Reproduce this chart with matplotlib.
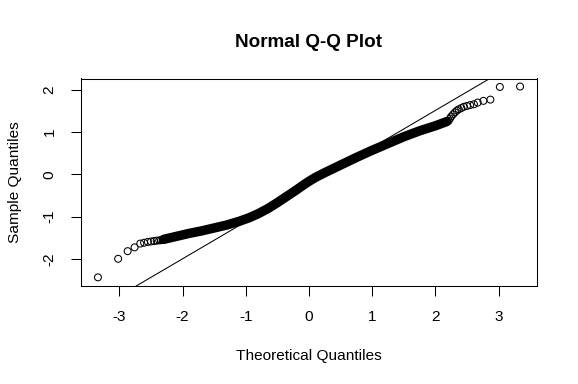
import numpy as np
import matplotlib
matplotlib.use("Agg")
import matplotlib.pyplot as plt

plt.rcParams["font.family"] = ["Liberation Sans", "DejaVu Sans"]

# lower tail: points that stand apart from the cloud (theoretical, sample)
low_theo = [-3.34, -3.02, -2.87, -2.76, -2.67, -2.61, -2.55, -2.50, -2.45,
            -2.41, -2.37, -2.34, -2.31]
low_samp = [-2.44, -2.00, -1.82, -1.73, -1.64, -1.62, -1.60, -1.59, -1.58,
            -1.57, -1.565, -1.56, -1.555]

# the overplotted middle of the sample (read along the centre of the band)
band_theo = [-2.30, -2.10, -1.90, -1.70, -1.50, -1.30, -1.10, -0.95, -0.80,
             -0.65, -0.50, -0.35, -0.20, -0.10, 0.00, 0.10, 0.25, 0.50,
             0.75, 1.00, 1.25, 1.50, 1.75, 2.00, 2.18]
band_samp = [-1.54, -1.47, -1.40, -1.34, -1.27, -1.20, -1.11, -1.03, -0.93,
             -0.81, -0.67, -0.52, -0.37, -0.265, -0.165, -0.075, 0.04, 0.22,
             0.40, 0.57, 0.73, 0.89, 1.03, 1.15, 1.25]

# upper tail
high_theo = [2.21, 2.23, 2.25, 2.28, 2.31, 2.34, 2.37, 2.41, 2.45, 2.50,
             2.55, 2.61, 2.67, 2.76, 2.87, 3.02, 3.34]
high_samp = [1.27, 1.32, 1.37, 1.42, 1.47, 1.51, 1.54, 1.57, 1.60, 1.62,
             1.64, 1.66, 1.70, 1.74, 1.77, 2.07, 2.08]

# qqline goes through the sample quartiles
quart_theo = [-0.674, 0.674]
quart_samp = [-0.835, 0.349]

x_ticks = [-3, -2, -1, 0, 1, 2, 3]
y_ticks = [-2, -1, 0, 1, 2]

W, H = 578, 384
fig = plt.figure(figsize=(W / 100, H / 100), dpi=100)
ax = fig.add_axes([80.5 / W, 1 - 286 / H, (537 - 80.5) / W, (286 - 78.5) / H])

# dense cloud of overlapping circles -> solid black band
ax.plot(band_theo, band_samp, color="black", lw=6.8,
        solid_capstyle="round", solid_joinstyle="round", zorder=2)
ax.scatter(low_theo + band_theo + high_theo, low_samp + band_samp + high_samp,
           s=25, facecolors="none", edgecolors="black", linewidths=0.75, zorder=3)

slope = (quart_samp[1] - quart_samp[0]) / (quart_theo[1] - quart_theo[0])
icpt = quart_samp[0] - slope * quart_theo[0]
ax.axline((0, icpt), slope=slope, color="black", lw=0.75, zorder=1)

ax.set_xlim(-3.616, 3.608)
ax.set_ylim(-2.645, 2.27)
ax.set_xticks(x_ticks)
ax.set_xticklabels([str(t) for t in x_ticks])
ax.set_yticks(y_ticks)
ax.set_yticklabels([str(t) for t in y_ticks], rotation=90, va="center")
ax.tick_params(direction="out", length=7, width=0.75, pad=10.3,
               labelsize=11.1, colors="black")
for sp in ax.spines.values():
    sp.set_linewidth(0.75)

ax.set_title("Normal Q-Q Plot", fontsize=13.6, fontweight="bold", pad=22.9)
fig.text(309 / W, 1 - 360 / H, "Theoretical Quantiles", ha="center",
         va="baseline", fontsize=11.1)
fig.text(15 / W, 1 - 182 / H, "Sample Quantiles", ha="center", va="center",
         rotation=90, fontsize=11.1)

fig.savefig("out.png", dpi=100)
